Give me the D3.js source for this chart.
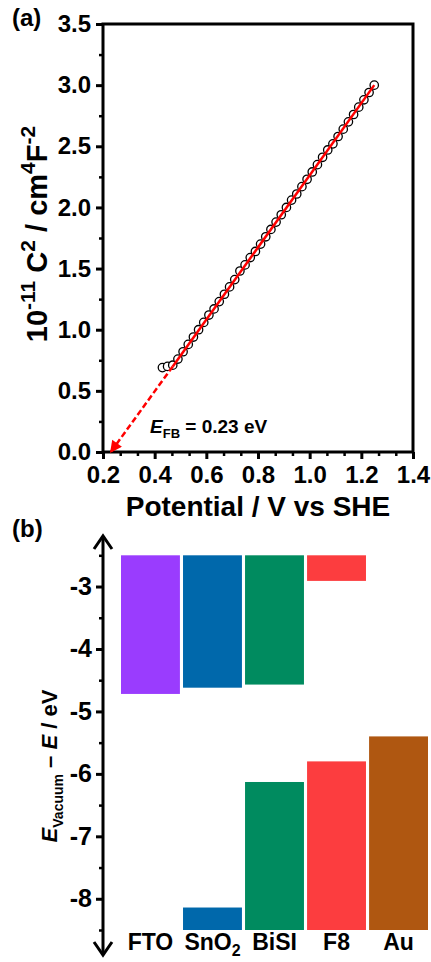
<!DOCTYPE html>
<html lang="en">
<head>
<meta charset="UTF-8"/>
<title>Mott-Schottky and band diagram</title>
<script src="https://d3js.org/d3.v7.min.js"></script>
<style>
  body { margin: 0; background: #fff; }
  text { font-family: "Liberation Sans", Arial, sans-serif; font-weight: bold; }
</style>
</head>
<body>
<div id="chart"></div>
<script>
// ---- panel (a) data: Mott-Schottky points ----
var potential = [0.43, 0.45, 0.47, 0.49, 0.51, 0.53, 0.55, 0.57, 0.59, 0.61,
                 0.63, 0.65, 0.67, 0.69, 0.71, 0.73, 0.75, 0.77, 0.79, 0.81,
                 0.83, 0.85, 0.87, 0.89, 0.91, 0.93, 0.95, 0.97, 0.99, 1.01,
                 1.03, 1.05, 1.07, 1.09, 1.11, 1.13, 1.15, 1.17, 1.19, 1.21,
                 1.23, 1.25];
var invC2 = [0.69, 0.70, 0.71, 0.76, 0.82, 0.88, 0.94, 1.00, 1.06, 1.12,
             1.17, 1.23, 1.29, 1.35, 1.41, 1.48, 1.53, 1.59, 1.64, 1.70,
             1.76, 1.82, 1.88, 1.94, 2.00, 2.06, 2.11, 2.17, 2.23, 2.29,
             2.35, 2.41, 2.47, 2.52, 2.58, 2.64, 2.70, 2.76, 2.82, 2.88,
             2.94, 3.00];
// linear fit (solid) and its extrapolation to the x intercept (dashed)
var fitSolid = [[0.47, 0.70], [1.25, 3.00]];
var fitDash = [[0.47, 0.70], [0.23, 0.0]];
var xTicksA = [0.2, 0.4, 0.6, 0.8, 1.0, 1.2, 1.4];
var yTicksA = [0.0, 0.5, 1.0, 1.5, 2.0, 2.5, 3.0, 3.5];

// ---- panel (b) data: band levels (eV) ----
var materials = ["FTO", "SnO2", "BiSI", "F8", "Au"];
var cbLevel = [-4.72, -4.62, -4.57, -2.91, null];   // bar from top down to this
var vbLevel = [null, -8.14, -6.13, -5.80, -5.40];   // bar from bottom up to this
var colors = ["#9a3cfe", "#0068ab", "#008b5f", "#fc3d3f", "#af5711"];
var yTicksB = [-3, -4, -5, -6, -7, -8];
var eTop = -2.5, eBottom = -8.5;

var W = 431, H = 962;
var FONT = "Liberation Sans, Arial, sans-serif";
var svg = d3.select("#chart").append("svg")
    .attr("width", W).attr("height", H);

function styleTicks(size) {
    return function(g) {
        g.select(".domain").remove();
        g.selectAll("line").attr("stroke-width", 3);
        g.selectAll("text").attr("font-size", size).attr("fill", "#000")
            .style("font-weight", "bold").style("font-family", FONT);
    };
}
function minorTicks(g) {
    g.select(".domain").remove();
    g.selectAll("line").attr("stroke-width", 2.5);
}

// ================= panel (a) =================
var xA = d3.scaleLinear().domain([0.2, 1.4]).range([103, 413]);
var yA = d3.scaleLinear().domain([0, 3.5]).range([452, 24]);

// minor ticks
var xMinorA = [];
for (var i = 0; i < xTicksA.length - 1; i++) {
    xMinorA.push(xTicksA[i] + 0.2 / 3, xTicksA[i] + 0.4 / 3);
}
var yMinorA = yTicksA.slice(0, -1).map(function(d) { return d + 0.25; });

svg.append("g")
    .attr("transform", "translate(0,452)")
    .call(d3.axisBottom(xA).tickValues(xMinorA).tickSize(4).tickFormat(""))
    .call(minorTicks);
svg.append("g")
    .attr("transform", "translate(103,0)")
    .call(d3.axisLeft(yA).tickValues(yMinorA).tickSize(4).tickFormat(""))
    .call(minorTicks);

svg.append("g")
    .attr("transform", "translate(0,452)")
    .call(d3.axisBottom(xA).tickValues(xTicksA).tickSize(7).tickPadding(7).tickFormat(d3.format(".1f")))
    .call(styleTicks(24));
svg.append("g")
    .attr("transform", "translate(103,0)")
    .call(d3.axisLeft(yA).tickValues(yTicksA).tickSize(7).tickPadding(5).tickFormat(d3.format(".1f")))
    .call(styleTicks(24));

// frame
svg.append("rect")
    .attr("x", xA(0.2)).attr("y", yA(3.5))
    .attr("width", xA(1.4) - xA(0.2)).attr("height", yA(0) - yA(3.5))
    .attr("fill", "none").attr("stroke", "#000").attr("stroke-width", 3);

// points
svg.append("g").selectAll("circle")
    .data(potential)
    .enter()
    .append("circle")
    .attr("cx", function(d) { return xA(d); })
    .attr("cy", function(d, i) { return yA(invC2[i]); })
    .attr("r", 4.2)
    .attr("fill", "#fff")
    .attr("stroke", "#000")
    .attr("stroke-width", 1.3);

// fit lines
var line = d3.line()
    .x(function(d) { return xA(d[0]); })
    .y(function(d) { return yA(d[1]); });

svg.append("defs").append("marker")
    .attr("id", "arr")
    .attr("viewBox", "0 0 10 10")
    .attr("refX", 9).attr("refY", 5)
    .attr("markerWidth", 14).attr("markerHeight", 12)
    .attr("markerUnits", "userSpaceOnUse")
    .attr("orient", "auto")
    .append("path").attr("d", "M0,0 L10,5 L0,10 Z").attr("fill", "#f00");

svg.append("path")
    .datum(fitDash)
    .attr("d", line)
    .attr("fill", "none")
    .attr("stroke", "#f00")
    .attr("stroke-width", 2.5)
    .attr("stroke-dasharray", "6,3")
    .attr("marker-end", "url(#arr)");

svg.append("path")
    .datum(fitSolid)
    .attr("d", line)
    .attr("fill", "none")
    .attr("stroke", "#f00")
    .attr("stroke-width", 2.5);

// annotation
var ann = svg.append("text")
    .attr("x", 150).attr("y", 433)
    .attr("font-size", 19);
ann.append("tspan").attr("font-style", "italic").text("E");
ann.append("tspan").attr("font-size", 13).attr("dy", 5).text("FB");
ann.append("tspan").attr("dy", -5).text(" = 0.23 eV");

// axis titles
svg.append("text")
    .attr("x", (xA(0.2) + xA(1.4)) / 2).attr("y", 516)
    .attr("text-anchor", "middle").attr("font-size", 28)
    .text("Potential / V vs SHE");

var yt = svg.append("text")
    .attr("transform", "translate(47," + ((yA(0) + yA(3.5)) / 2 - 4) + ") rotate(-90)")
    .attr("text-anchor", "middle").attr("font-size", 29);
yt.append("tspan").text("10");
yt.append("tspan").attr("font-size", 21).attr("dy", -12).text("-11");
yt.append("tspan").attr("dy", 12).text("  C");
yt.append("tspan").attr("font-size", 21).attr("dy", -12).text("2");
yt.append("tspan").attr("dy", 12).text(" / cm");
yt.append("tspan").attr("font-size", 21).attr("dy", -12).text("4");
yt.append("tspan").attr("dy", 12).text("F");
yt.append("tspan").attr("font-size", 21).attr("dy", -12).text("-2");

svg.append("text").attr("x", 12).attr("y", 26).attr("font-size", 24).text("(a)");

// ================= panel (b) =================
var xB = d3.scaleBand().domain(materials).range([121, 428]).paddingInner(0.05);
var yB = d3.scaleLinear().domain([eBottom, eTop]).range([930, 555.3]);

// conduction-side bars (from top of axis down)
svg.append("g").selectAll("rect")
    .data(materials.filter(function(d, i) { return cbLevel[i] !== null; }))
    .enter()
    .append("rect")
    .attr("x", function(d) { return xB(d); })
    .attr("y", yB(eTop))
    .attr("width", xB.bandwidth())
    .attr("height", function(d) { return yB(cbLevel[materials.indexOf(d)]) - yB(eTop); })
    .attr("fill", function(d) { return colors[materials.indexOf(d)]; });

// valence-side bars (from bottom of axis up)
svg.append("g").selectAll("rect")
    .data(materials.filter(function(d, i) { return vbLevel[i] !== null; }))
    .enter()
    .append("rect")
    .attr("x", function(d) { return xB(d); })
    .attr("y", function(d) { return yB(vbLevel[materials.indexOf(d)]); })
    .attr("width", xB.bandwidth())
    .attr("height", function(d) { return yB(eBottom) - yB(vbLevel[materials.indexOf(d)]); })
    .attr("fill", function(d) { return colors[materials.indexOf(d)]; });

// y axis with double arrow
var yMinorB = [-2.5, -3.5, -4.5, -5.5, -6.5, -7.5, -8.5];
svg.append("g")
    .attr("transform", "translate(103,0)")
    .call(d3.axisLeft(yB).tickValues(yMinorB).tickSize(4).tickFormat(""))
    .call(minorTicks);
svg.append("g")
    .attr("transform", "translate(103,0)")
    .call(d3.axisLeft(yB).tickValues(yTicksB).tickSize(7).tickPadding(4)
        .tickFormat(function(d) { return "-" + Math.abs(d); }))
    .call(styleTicks(25));

svg.append("line")
    .attr("x1", 103).attr("x2", 103).attr("y1", 536).attr("y2", 955)
    .attr("stroke", "#000").attr("stroke-width", 3);
svg.append("path")
    .attr("d", "M94,549 L103,536 L112,549")
    .attr("fill", "none").attr("stroke", "#000").attr("stroke-width", 3);
svg.append("path")
    .attr("d", "M94,942 L103,955 L112,942")
    .attr("fill", "none").attr("stroke", "#000").attr("stroke-width", 3);

// category labels
var lab = svg.append("g").selectAll("text")
    .data(materials)
    .enter()
    .append("text")
    .attr("x", function(d) { return xB(d) + xB.bandwidth() / 2; })
    .attr("y", 950)
    .attr("text-anchor", "middle")
    .attr("font-size", 23);
lab.each(function(d) {
    var t = d3.select(this);
    if (d === "SnO2") {
        t.append("tspan").text("SnO");
        t.append("tspan").attr("font-size", 16).attr("dy", 6).text("2");
    } else {
        t.text(d);
    }
});

// y title panel b
var yb = svg.append("text")
    .attr("transform", "translate(57,766) rotate(-90)")
    .attr("text-anchor", "middle").attr("font-size", 22);
yb.append("tspan").attr("font-style", "italic").text("E");
yb.append("tspan").attr("font-size", 14).attr("dy", 6).text("Vacuum");
yb.append("tspan").attr("dy", -6).text(" \u2013 ");
yb.append("tspan").attr("font-style", "italic").text("E");
yb.append("tspan").text(" / eV");

svg.append("text").attr("x", 12).attr("y", 537).attr("font-size", 24).text("(b)");
</script>
</body>
</html>
